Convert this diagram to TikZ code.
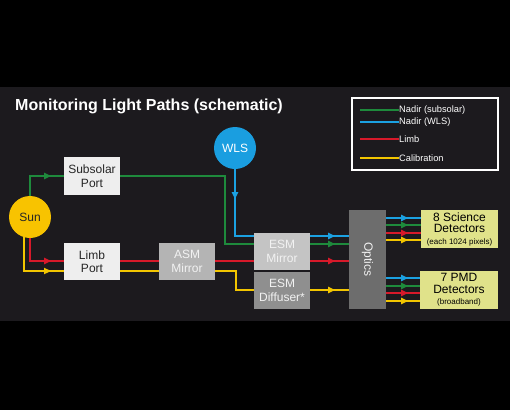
\documentclass[tikz,border=0pt]{standalone}
\usepackage{fontspec}
\setmainfont{Liberation Sans}
\usetikzlibrary{arrows.meta,decorations.markings}
\definecolor{bg}{HTML}{1C1A1E}
\definecolor{grn}{HTML}{1E8A3C}
\definecolor{blu}{HTML}{1BA1E2}
\definecolor{rd}{HTML}{D7192A}
\definecolor{ylw}{HTML}{F2C500}
\definecolor{sunc}{HTML}{F8C300}
\definecolor{wlsc}{HTML}{1A9EE0}
\definecolor{portc}{HTML}{EEEEEE}
\definecolor{asmc}{HTML}{B4B4B4}
\definecolor{esmmc}{HTML}{C4C4C4}
\definecolor{esmdc}{HTML}{8F8F8F}
\definecolor{optc}{HTML}{6D6D6D}
\definecolor{detc}{HTML}{E0E28A}
\begin{document}
\begin{tikzpicture}[x=1pt,y=-1pt,
  box/.style={inner sep=0pt, align=center, font=\fontsize{12}{13.5}\selectfont},
  ray/.style={line width=1.8pt},
  arrowat/.style={postaction={decorate},decoration={markings,mark=at position #1 with {\arrow{Triangle[length=7pt,width=6pt]}}}},
  legtext/.style={anchor=west, inner sep=0pt, text=white, font=\fontsize{9.3}{10}\selectfont}
]
\useasboundingbox (0,0) rectangle (510,410);
\fill[black] (0,0) rectangle (510,410);
\fill[bg] (0,87) rectangle (510,321);

% title
\node[anchor=base west, inner sep=0pt, text=white, font=\bfseries\fontsize{16}{16}\selectfont] (title) at (15,110) {Monitoring Light Paths (schematic)};

% legend
\node[draw=white, line width=1.1pt, minimum width=146pt, minimum height=72pt, inner sep=0pt] (leg) at (425,134) {};
\node[legtext] (lt1) at (399,110) {Nadir (subsolar)};
\node[legtext] (lt2) at (399,122) {Nadir (WLS)};
\node[legtext] (lt3) at (399,139) {Limb};
\node[legtext] (lt4) at (399,158) {Calibration};
\coordinate (ls1) at (360,110);
\coordinate (ls2) at (360,122);
\coordinate (ls3) at (360,139);
\coordinate (ls4) at (360,158);
\draw[grn, line width=1.5pt] (ls1) -- (lt1.west);
\draw[blu, line width=1.5pt] (ls2) -- (lt2.west);
\draw[rd, line width=1.5pt] (ls3) -- (lt3.west);
\draw[ylw, line width=1.5pt] (ls4) -- (lt4.west);

% nodes
\node[circle, fill=sunc, minimum size=42pt, inner sep=0pt, text=black!85, font=\fontsize{12}{13}\selectfont] (sun) at (30,217) {Sun};
\node[circle, fill=wlsc, minimum size=42pt, inner sep=0pt, text=white, font=\fontsize{12}{13}\selectfont] (wls) at (235,148) {WLS};
\node[box, fill=portc, text=black!85, minimum width=56pt, minimum height=38pt] (sub) at (92,176) {Subsolar\\Port};
\node[box, fill=portc, text=black!85, minimum width=56pt, minimum height=37pt] (limb) at (92,261.5) {Limb\\Port};
\node[box, fill=asmc, text=white!95!black, minimum width=56pt, minimum height=37pt] (asm) at (187,261.5) {ASM\\Mirror};
\node[box, fill=esmmc, text=white!95!black, minimum width=56pt, minimum height=37pt] (esmM) at (282,251.5) {ESM\\Mirror};
\node[box, fill=esmdc, text=white!95!black, minimum width=56pt, minimum height=37.5pt] (esmD) at (282,290.25) {ESM\\Diffuser*};
\node[box, fill=optc, minimum width=37pt, minimum height=99pt] (optics) at (367.5,259.5) {};
\node[text=white!95!black, rotate=-90, inner sep=0pt, font=\fontsize{12}{13}\selectfont] (optlabel) at (optics.center) {Optics};
\node[box, fill=detc, text=black, minimum width=77pt, minimum height=38pt, font=\fontsize{12}{11.5}\selectfont] (sci) at (459.5,229) {8 Science\\Detectors\\{\fontsize{8}{9}\selectfont (each 1024 pixels)}};
\node[box, fill=detc, text=black, minimum width=78pt, minimum height=38pt, font=\fontsize{12}{11.5}\selectfont] (pmd) at (459,290) {7 PMD\\Detectors\\{\fontsize{8}{9}\selectfont (broadband)}};

% helper coordinates
\coordinate (gy) at (0,244);
\coordinate (by) at (0,236);
\coordinate (ry) at (0,261);
\coordinate (yy) at (0,271);
\coordinate (dy) at (0,290);
\coordinate (gk) at (225,0);
\coordinate (yk) at (236,0);

% green
\draw[ray, grn, arrowat=41pt] (sun.north) |- (sub.west);
\draw[ray, grn] (sub.east) -| (gk|-gy) -- (esmM.west|-gy);
\draw[ray, grn, arrowat=25pt] (esmM.east|-gy) -- (optics.west|-gy);
% blue
\draw[ray, blu, arrowat=30pt] (wls.south) |- (esmM.west|-by);
\draw[ray, blu, arrowat=25pt] (esmM.east|-by) -- (optics.west|-by);
% red
\draw[ray, rd, arrowat=44pt] (sun.south) |- (limb.west|-ry);
\draw[ray, rd] (limb.east|-ry) -- (asm.west|-ry);
\draw[ray, rd] (asm.east|-ry) -- (esmM.west|-ry);
\draw[ray, rd, arrowat=25pt] (esmM.east|-ry) -- (optics.west|-ry);
% yellow
\draw[ray, ylw, arrowat=61pt] (sun.253) |- (limb.west|-yy);
\draw[ray, ylw] (limb.east|-yy) -- (asm.west|-yy);
\draw[ray, ylw] (asm.east|-yy) -| (yk|-dy) -- (esmD.west|-dy);
\draw[ray, ylw, arrowat=25pt] (esmD.east|-dy) -- (optics.west|-dy);

% outputs
\foreach \yv/\c [count=\i] in {218/blu,225/grn,233/rd,240/ylw}{
  \coordinate (so\i) at (0,\yv);
  \draw[ray, \c, arrowat=22pt] (optics.east|-so\i) -- (sci.west|-so\i);
}
\foreach \yv/\c [count=\i] in {278/blu,286/grn,293/rd,301/ylw}{
  \coordinate (po\i) at (0,\yv);
  \draw[ray, \c, arrowat=22pt] (optics.east|-po\i) -- (pmd.west|-po\i);
}
\end{tikzpicture}
\end{document}
